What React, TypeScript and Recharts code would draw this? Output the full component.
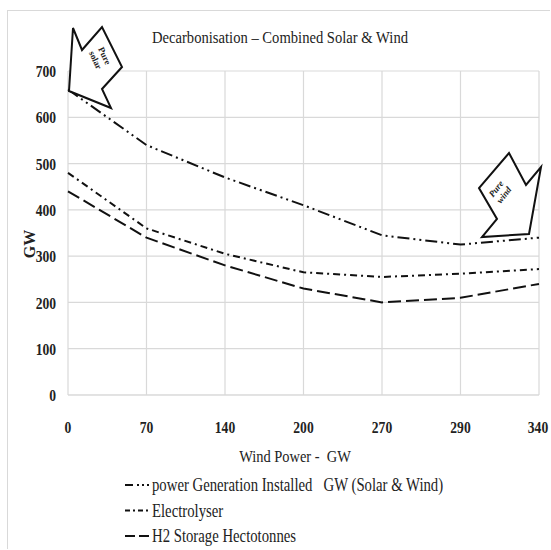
import React from 'react';
import { LineChart, Line, XAxis, YAxis, CartesianGrid } from 'recharts';

// wind power installed (GW) - categories on the x axis
const windPower = ['0', '70', '140', '200', '270', '290', '340'];
const powerGeneration = [660, 540, 470, 410, 345, 325, 340];
const electrolyser = [480, 360, 305, 265, 255, 262, 272];
const h2Storage = [440, 340, 280, 230, 200, 210, 240];
const yTicks = [0, 100, 200, 300, 400, 500, 600, 700];

const series = [
  { key: 'power', name: 'power Generation Installed   GW (Solar & Wind)', dash: '12 4 2 4 2 4', icon: '8 4 2 3 2 3' },
  { key: 'electrolyser', name: 'Electrolyser', dash: '7 4 2 4', icon: '5 3 2 3' },
  { key: 'h2', name: 'H2 Storage Hectotonnes', dash: '13 5', icon: '10 4' },
];

const data = windPower.map((w, i) => ({
  wind: w,
  power: powerGeneration[i],
  electrolyser: electrolyser[i],
  h2: h2Storage[i],
}));

const FONT = '"Liberation Serif", "DejaVu Serif", serif';

function CondensedTick(props: any) {
  const { x, y, payload, textAnchor } = props;
  return (
    <g transform={`translate(${x},${y})`}>
      <text
        transform="scale(0.8,1)"
        textAnchor={textAnchor}
        dominantBaseline="central"
        style={{ fontFamily: FONT, fontWeight: 'bold', fontSize: 17 }}
        fill="#222"
      >
        {payload.value}
      </text>
    </g>
  );
}

export default function App() {
  return (
    <div
      style={{
        position: 'absolute',
        left: 7,
        top: 10,
        width: 543,
        height: 539,
        borderLeft: '1px solid #d9d9d9',
        borderTop: '1px solid #d9d9d9',
        fontFamily: FONT,
        boxSizing: 'border-box',
      }}
    >
      <LineChart
        width={542}
        height={530}
        data={data}
        margin={{ top: 60, right: 11, left: 10, bottom: 116 }}
        style={{ fontFamily: FONT, overflow: 'visible' }}
      >
        <CartesianGrid stroke="#d9d9d9" strokeWidth={1.2} />
        <XAxis
          dataKey="wind"
          height={30}
          stroke="#d9d9d9"
          tickLine={false}
          tickSize={0}
          tick={(p: any) => <CondensedTick {...p} y={p.y + 30} textAnchor="middle" />}
        />
        <YAxis
          width={50}
          domain={[0, 700]}
          ticks={yTicks}
          axisLine={false}
          tickLine={false}
          tickSize={0}
          tick={(p: any) => <CondensedTick {...p} x={p.x - 10} textAnchor="end" />}
        />
        {series.map((s) => (
          <Line
            key={s.key}
            type="linear"
            dataKey={s.key}
            name={s.name}
            stroke="#111"
            strokeWidth={2}
            strokeDasharray={s.dash}
            dot={false}
            isAnimationActive={false}
          />
        ))}
      </LineChart>

      {/* title, axis titles, arrows and legend */}
      <svg
        width={542}
        height={538}
        style={{ position: 'absolute', left: 0, top: 0, pointerEvents: 'none', fontFamily: FONT }}
      >
        <text transform="translate(272,26) scale(0.86,1)" textAnchor="middle" dominantBaseline="central" style={{ fontSize: 17 }} fill="#222">
          Decarbonisation – Combined Solar &amp; Wind
        </text>
        <text
          transform="translate(21,233) rotate(-90)"
          textAnchor="middle"
          dominantBaseline="central"
          style={{ fontSize: 16, fontWeight: 'bold' }}
          fill="#222"
        >
          GW
        </text>
        <text transform="translate(287,445) scale(0.85,1)" textAnchor="middle" dominantBaseline="central" style={{ fontSize: 17, whiteSpace: 'pre' }} fill="#222">
          Wind Power -  GW
        </text>

        <polygon
          points="65,17 74,39 94,16 114,56 94,78 103,97 61,80"
          fill="#fff"
          stroke="#111"
          strokeWidth={2}
        />
        <text transform="translate(92,47) rotate(65)" textAnchor="middle" style={{ fontSize: 9, fontWeight: 'bold' }} fill="#222">
          <tspan x={0} dy={-2}>Pure</tspan>
          <tspan x={0} dy={10}>solar</tspan>
        </text>

        <polygon
          points="501,142 518,174 533,156 521,223 474,226 489,208 471,177"
          fill="#fff"
          stroke="#111"
          strokeWidth={2}
        />
        <text transform="translate(492,181) rotate(-52)" textAnchor="middle" style={{ fontSize: 9, fontWeight: 'bold', fontStyle: 'italic' }} fill="#222">
          <tspan x={0} dy={-2}>Pure</tspan>
          <tspan x={0} dy={10}>wind</tspan>
        </text>

        {series.map((s, i) => (
          <g key={s.key} transform={`translate(117,${474 + i * 25.5})`}>
            <line x1={0} x2={24} y1={0} y2={0} stroke="#111" strokeWidth={2} strokeDasharray={s.icon} />
            <text
              transform="translate(27,0) scale(0.82,1)"
              dominantBaseline="central"
              style={{ fontSize: 18, whiteSpace: 'pre' }}
              fill="#222"
            >
              {s.name}
            </text>
          </g>
        ))}
      </svg>
    </div>
  );
}
